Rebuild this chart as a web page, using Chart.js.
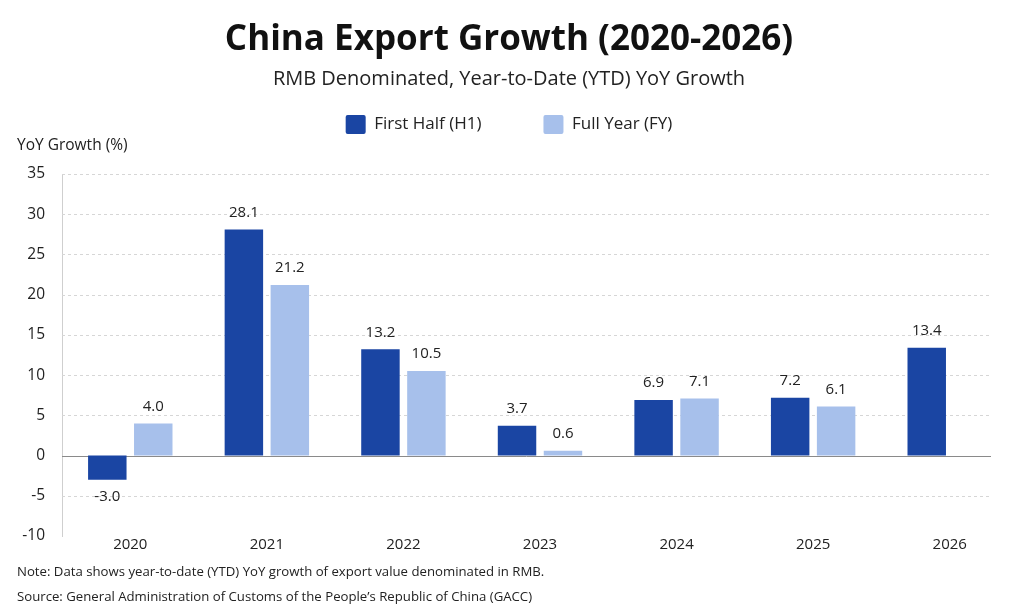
<!DOCTYPE html>
<html>
<head>
<meta charset="utf-8">
<script src="https://cdn.jsdelivr.net/npm/chart.js@4.4.1/dist/chart.umd.min.js"></script>
<style>
  html, body { margin: 0; padding: 0; background: #fff; }
  #wrap { width: 1024px; height: 615px; }
</style>
</head>
<body>
<div id="wrap"><canvas id="exportChart"></canvas></div>
<script>
const years = ['2020', '2021', '2022', '2023', '2024', '2025', '2026'];
const firstHalf = [-3.0, 28.1, 13.2, 3.7, 6.9, 7.2, 13.4];
const fullYear = [4.0, 21.2, 10.5, 0.6, 7.1, 6.1, null];
const yTicks = [-10, -5, 0, 5, 10, 15, 20, 25, 30, 35];

const FONT = "'Open Sans', 'Noto Sans', sans-serif";
const TEXT = '#222';

// gridlines drawn by hand so the zero line can be solid and they stop before the edge
const gridPlugin = {
    id: 'gridLines',
    beforeDatasetsDraw(chart) {
        const { ctx, chartArea, scales } = chart;
        const y = scales.y;
        ctx.save();
        ctx.lineWidth = 1;
        yTicks.forEach(v => {
            if (v === -10) return;
            const py = Math.round(y.getPixelForValue(v)) + 0.5;
            if (v === 0) {
                ctx.setLineDash([]);
                ctx.strokeStyle = '#8a8a8a';
            } else {
                ctx.setLineDash([3, 3]);
                ctx.strokeStyle = '#d6d6d6';
            }
            ctx.beginPath();
            ctx.moveTo(chartArea.left, py);
            ctx.lineTo(991, py);
            ctx.stroke();
        });
        ctx.restore();
    }
};

// extra room under the legend (where the axis caption sits)
const legendSpacer = {
    id: 'legendSpacer',
    beforeLayout(chart) {
        const legend = chart.legend;
        if (!legend || legend._spaced) return;
        const fit = legend.fit;
        legend.fit = function () {
            fit.call(this);
            this.height += 22;
        };
        legend._spaced = true;
    }
};

// value labels above / below bars
const valuePlugin = {
    id: 'valueLabels',
    afterDatasetsDraw(chart) {
        const { ctx } = chart;
        ctx.save();
        ctx.font = '15px ' + FONT;
        ctx.fillStyle = TEXT;
        ctx.textAlign = 'center';
        ctx.textBaseline = 'middle';
        chart.data.datasets.forEach((ds, di) => {
            chart.getDatasetMeta(di).data.forEach((bar, i) => {
                const v = ds.data[i];
                if (v === null) return;
                const off = v < 0 ? 17 : -17;
                ctx.fillText(v.toFixed(1), bar.x, bar.y + off);
            });
        });
        ctx.restore();
    }
};

// axis caption and notes
const textPlugin = {
    id: 'extraText',
    afterDraw(chart) {
        const { ctx } = chart;
        ctx.save();
        ctx.fillStyle = TEXT;
        ctx.textAlign = 'left';
        ctx.textBaseline = 'middle';
        ctx.font = '15.5px ' + FONT;
        ctx.fillText('YoY Growth (%)', 17, 146);
        ctx.font = '13.2px ' + FONT;
        ctx.fillText('Note: Data shows year-to-date (YTD) YoY growth of export value denominated in RMB.', 17, 572);
        ctx.fillText('Source: General Administration of Customs of the People\u2019s Republic of China (GACC)', 17, 597);
        ctx.restore();
    }
};

document.addEventListener('DOMContentLoaded', function () {
    const canvas = document.getElementById('exportChart');
    new Chart(canvas.getContext('2d'), {
        type: 'bar',
        data: {
            labels: years,
            datasets: [{
                label: 'First Half (H1)',
                data: firstHalf,
                backgroundColor: '#1a45a3',
                categoryPercentage: 0.673,
                barPercentage: 0.837
            }, {
                label: 'Full Year (FY)',
                data: fullYear,
                backgroundColor: '#a7c0eb',
                categoryPercentage: 0.673,
                barPercentage: 0.837
            }]
        },
        options: {
            responsive: true,
            maintainAspectRatio: false,
            animation: false,
            devicePixelRatio: 1,
            layout: { padding: { left: 0, right: 6, top: 0, bottom: 45 } },
            plugins: {
                title: {
                    display: true,
                    text: 'China Export Growth (2020-2026)',
                    color: '#111',
                    font: { family: FONT, size: 35, weight: 'bold' },
                    padding: { top: 17, bottom: 0 }
                },
                subtitle: {
                    display: true,
                    text: 'RMB Denominated, Year-to-Date (YTD) YoY Growth',
                    color: TEXT,
                    font: { family: FONT, size: 20 },
                    padding: { top: 6, bottom: -38 }
                },
                legend: {
                    labels: {
                        color: TEXT,
                        font: { family: FONT, size: 17 },
                        boxWidth: 20,
                        boxHeight: 19,
                        padding: 62,
                        useBorderRadius: true,
                        borderRadius: 2
                    }
                },
                tooltip: { enabled: false }
            },
            scales: {
                x: {
                    grid: { display: false, drawTicks: false },
                    border: { display: false },
                    ticks: { color: TEXT, font: { family: FONT, size: 15 }, padding: 8 }
                },
                y: {
                    min: -10,
                    max: 35,
                    afterFit(scale) {
                        scale.width = 62;
                        scale.paddingTop = 174;
                    },
                    afterBuildTicks(scale) { scale.ticks = yTicks.map(v => ({ value: v })); },
                    grid: { display: false, drawTicks: false },
                    border: { display: true, color: '#cfcfcf', width: 1 },
                    ticks: { color: TEXT, font: { family: FONT, size: 15.5 }, padding: 17 }
                }
            }
        },
        plugins: [gridPlugin, legendSpacer, valuePlugin, textPlugin]
    });
});
</script>
</body>
</html>
